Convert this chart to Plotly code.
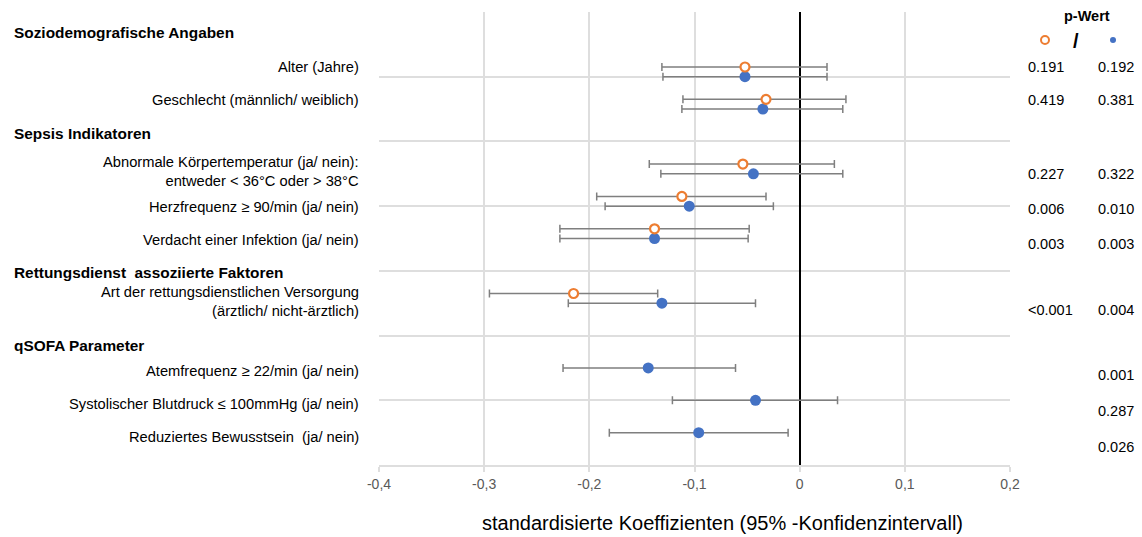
import plotly.graph_objects as go

# ---------------- data ----------------
row_labels = [
    "Alter (Jahre)",
    "Geschlecht (männlich/ weiblich)",
    "Abnormale Körpertemperatur (ja/ nein):<br>entweder < 36°C oder > 38°C",
    "Herzfrequenz ≥ 90/min (ja/ nein)",
    "Verdacht einer Infektion (ja/ nein)",
    "Art der rettungsdienstlichen Versorgung<br>(ärztlich/ nicht-ärztlich)",
    "Atemfrequenz ≥ 22/min (ja/ nein)",
    "Systolischer Blutdruck ≤ 100mmHg (ja/ nein)",
    "Reduziertes Bewusstsein  (ja/ nein)",
]
row_y = [6.0, 5.5, 4.5, 4.0, 3.5, 2.5, 1.5, 1.0, 0.5]

section_labels = [
    "Soziodemografische Angaben",
    "Sepsis Indikatoren",
    "Rettungsdienst  assoziierte Faktoren",
    "qSOFA Parameter",
]
section_y = [6.69, 5.13, 2.98, 1.84]

# blue (filled) model
blue_coef = [-0.052, -0.035, -0.044, -0.105, -0.138, -0.131, -0.144, -0.042, -0.096]
blue_lo = [-0.130, -0.112, -0.132, -0.185, -0.228, -0.220, -0.225, -0.121, -0.181]
blue_hi = [0.026, 0.041, 0.041, -0.025, -0.049, -0.042, -0.061, 0.036, -0.011]
blue_p = ["0.192", "0.381", "0.322", "0.010", "0.003", "0.004", "0.001", "0.287", "0.026"]

# orange (open) model — only first six rows
orange_coef = [-0.052, -0.032, -0.054, -0.112, -0.138, -0.215]
orange_lo = [-0.131, -0.111, -0.143, -0.193, -0.228, -0.295]
orange_hi = [0.026, 0.044, 0.033, -0.032, -0.048, -0.135]
orange_p = ["0.191", "0.419", "0.227", "0.006", "0.003", "<0.001"]
orange_offset = 0.15

tick_vals = [-0.4, -0.3, -0.2, -0.1, 0.0, 0.1, 0.2]
tick_text = ["-0,4", "-0,3", "-0,2", "-0,1", "0", "0,1", "0,2"]

x_title = "standardisierte Koeffizienten (95% -Konfidenzintervall)"

# ---------------- figure ----------------
BLUE = "#4472C4"
ORANGE = "#ED7D31"
ERR = "#7F7F7F"
GRID = "#DEDEDE"
FONT = "Liberation Sans, Arial, sans-serif"

orange_y = [y + orange_offset for y in row_y[:len(orange_coef)]]

fig = go.Figure()

fig.add_trace(go.Scatter(
    x=blue_coef, y=row_y, mode="markers",
    marker=dict(color=BLUE, size=11, line=dict(width=0)),
    error_x=dict(type="data", symmetric=False,
                 array=[h - c for h, c in zip(blue_hi, blue_coef)],
                 arrayminus=[c - l for c, l in zip(blue_coef, blue_lo)],
                 color=ERR, thickness=1.5, width=4),
    showlegend=False, hoverinfo="skip",
))

fig.add_trace(go.Scatter(
    x=orange_coef, y=orange_y, mode="markers",
    marker=dict(color="white", size=9, line=dict(color=ORANGE, width=2.2)),
    error_x=dict(type="data", symmetric=False,
                 array=[h - c for h, c in zip(orange_hi, orange_coef)],
                 arrayminus=[c - l for c, l in zip(orange_coef, orange_lo)],
                 color=ERR, thickness=1.5, width=4),
    showlegend=False, hoverinfo="skip",
))

L, R, T, B = 379, 132, 12, 72
W, H = 1142, 537
pw = W - L - R
ph = H - T - B


def px2paper_x(px):
    return (px - L) / pw


def px2paper_y(py):
    return 1 - (py - T) / ph


annotations = []

# row labels
label_y = [6.15, 5.64, 4.54, 3.99, 3.48, 2.52, 1.45, 0.94, 0.43]
for txt, y in zip(row_labels, label_y):
    annotations.append(dict(
        x=px2paper_x(361), xref="paper", y=y, yref="y",
        text=txt, showarrow=False, xanchor="right", yanchor="middle",
        align="right", font=dict(family=FONT, size=14.7, color="#000000"),
    ))

for txt, y in zip(section_labels, section_y):
    annotations.append(dict(
        x=px2paper_x(12), xref="paper", y=y, yref="y",
        text="<b>" + txt + "</b>", showarrow=False, xanchor="left",
        yanchor="middle", font=dict(family=FONT, size=15.4, color="#000000"),
    ))

# p-values
p_orange_y = [6.15, 5.64, 4.49, 3.95, 3.41, 2.40]
p_blue_y = [6.15, 5.64, 4.49, 3.95, 3.41, 2.40, 1.39, 0.84, 0.28]
for txt, y in zip(orange_p, p_orange_y):
    annotations.append(dict(
        x=px2paper_x(1026), xref="paper", y=y, yref="y", text=txt,
        showarrow=False, xanchor="left", yanchor="middle",
        font=dict(family=FONT, size=14.5, color="#000000"),
    ))
for txt, y in zip(blue_p, p_blue_y):
    annotations.append(dict(
        x=px2paper_x(1096), xref="paper", y=y, yref="y", text=txt,
        showarrow=False, xanchor="left", yanchor="middle",
        font=dict(family=FONT, size=14.5, color="#000000"),
    ))

# p-Wert header
annotations.append(dict(
    x=px2paper_x(1087), xref="paper", y=px2paper_y(16), yref="paper",
    text="<b>p-Wert</b>", showarrow=False, xanchor="center", yanchor="middle",
    font=dict(family=FONT, size=14.5, color="#000000"),
))
annotations.append(dict(
    x=px2paper_x(1076), xref="paper", y=px2paper_y(41), yref="paper",
    text="<b>/</b>", showarrow=False, xanchor="center", yanchor="middle",
    font=dict(family=FONT, size=20, color="#000000"),
))

# axis title
annotations.append(dict(
    x=px2paper_x(722), xref="paper", y=px2paper_y(523), yref="paper",
    text=x_title, showarrow=False, xanchor="center", yanchor="middle",
    font=dict(family=FONT, size=20, color="#000000"),
))

# legend symbols near p-Wert header
r_o = 4.0
r_b = 3.0
shapes = [
    dict(type="circle", xref="paper", yref="paper",
         x0=px2paper_x(1045 - r_o), x1=px2paper_x(1045 + r_o),
         y0=px2paper_y(40 + r_o), y1=px2paper_y(40 - r_o),
         line=dict(color=ORANGE, width=2), fillcolor="white"),
    dict(type="circle", xref="paper", yref="paper",
         x0=px2paper_x(1113 - r_b), x1=px2paper_x(1113 + r_b),
         y0=px2paper_y(40 + r_b), y1=px2paper_y(40 - r_b),
         line=dict(color=BLUE, width=0), fillcolor=BLUE),
]

fig.update_layout(
    width=W, height=H,
    margin=dict(l=L, r=R, t=T, b=B, pad=0),
    paper_bgcolor="white", plot_bgcolor="white",
    font=dict(family=FONT, size=14, color="#000000"),
    annotations=annotations, shapes=shapes,
    showlegend=False,
)

fig.update_xaxes(
    range=[-0.4, 0.2], tickvals=tick_vals, ticktext=tick_text,
    showgrid=True, gridcolor=GRID, gridwidth=1.5,
    zeroline=True, zerolinecolor="#000000", zerolinewidth=2,
    showline=True, linecolor=GRID, linewidth=1.5,
    ticks="outside", ticklen=5, tickcolor=GRID, tickwidth=1.5,
    tickfont=dict(family="Liberation Sans Narrow, Arial Narrow, Liberation Sans, sans-serif",
                  size=14, color="#595959"),
    fixedrange=True,
)
fig.update_yaxes(
    range=[0, 7], dtick=1, tick0=0,
    showgrid=True, gridcolor=GRID, gridwidth=1.5,
    zeroline=False, showticklabels=False, showline=False,
    fixedrange=True,
)

fig.write_html(
    "out.html",
    config={"displayModeBar": False},
    post_script="document.body.style.margin='0px';document.body.style.overflow='hidden';",
)
